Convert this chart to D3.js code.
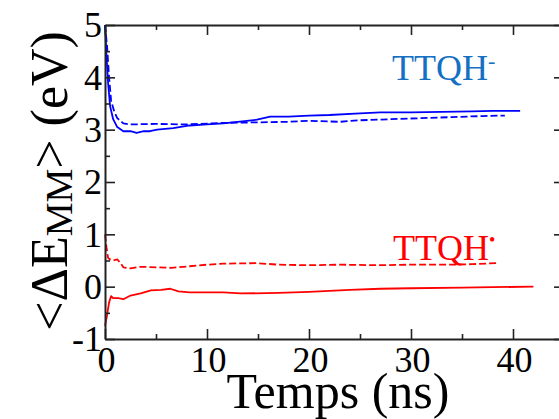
<!DOCTYPE html>
<html>
<head>
<meta charset="utf-8">
<script src="https://cdn.jsdelivr.net/npm/d3@7"></script>
<style>
  html, body { margin: 0; padding: 0; background: #fff; }
  svg { display: block; }
  svg text { font-family: "Liberation Serif", "Times New Roman", Times, serif !important; }
</style>
</head>
<body>
<svg id="chart" width="559" height="419"></svg>
<script>
// ---- data ----
const xTicks = [0, 10, 20, 30, 40];
const xMinorTicks = [5, 15, 25, 35, 45];
const yTicks = [-1, 0, 1, 2, 3, 4, 5];
const yMinorTicks = [-0.5, 0.5, 1.5, 2.5, 3.5, 4.5];

const blueSolidT = [0, 0.15, 0.3, 0.5, 0.8, 1.2, 1.8, 2.5, 3.1, 3.8, 4.4, 5.1, 6.7, 8.3, 10, 11.6, 13, 14.9, 16.2, 18, 20, 22, 25, 27, 30, 33, 36, 38, 40.7];
const blueSolidV = [5.0, 4.4, 3.9, 3.45, 3.2, 3.05, 2.97, 2.97, 2.94, 2.97, 2.97, 3.0, 3.03, 3.08, 3.1, 3.12, 3.15, 3.19, 3.25, 3.25, 3.27, 3.28, 3.31, 3.33, 3.33, 3.34, 3.35, 3.36, 3.36];

const blueDashT = [0, 0.2, 0.4, 0.6, 0.9, 1.2, 1.8, 2.5, 5, 8, 11.6, 15, 18, 20, 23, 25, 28, 31, 34, 37, 39.2];
const blueDashV = [5.0, 4.6, 4.0, 3.55, 3.35, 3.22, 3.12, 3.1, 3.11, 3.1, 3.13, 3.14, 3.15, 3.17, 3.15, 3.18, 3.2, 3.22, 3.24, 3.26, 3.27];

const redDashT = [0, 0.15, 0.3, 0.5, 0.8, 1.2, 1.5, 1.8, 2.5, 3.5, 5.1, 6.5, 8.3, 10, 11.6, 14.9, 17, 20, 23, 27, 30, 34, 36, 38.4];
const redDashV = [1.0, 0.75, 0.55, 0.52, 0.5, 0.52, 0.46, 0.37, 0.35, 0.38, 0.37, 0.36, 0.39, 0.42, 0.44, 0.45, 0.42, 0.41, 0.42, 0.41, 0.42, 0.42, 0.43, 0.45];

const redSolidT = [0, 0.2, 0.4, 0.6, 0.8, 1.3, 1.8, 2.5, 3.5, 4.5, 5.5, 6.4, 7.2, 8.3, 11.6, 13.3, 17, 20, 24, 27, 30, 35, 38, 42];
const redSolidV = [-0.75, -0.55, -0.3, -0.18, -0.22, -0.22, -0.24, -0.17, -0.13, -0.07, -0.06, -0.04, -0.09, -0.11, -0.11, -0.13, -0.12, -0.1, -0.06, -0.04, -0.03, -0.02, -0.01, 0.0];

const xDomain = [0, 45];
const yDomain = [-1, 5];

// ---- layout ----
const svg = d3.select("#chart");
const pLeft = 105, pTop = 25, pRight = 564, pBottom = 339;
const x = d3.scaleLinear().domain(xDomain).range([pLeft, pRight]);
const y = d3.scaleLinear().domain(yDomain).range([pBottom, pTop]);
const serif = "'Liberation Serif', 'Times New Roman', Times, serif";

svg.append("rect").attr("width", 559).attr("height", 419).attr("fill", "#fff");

const pts = (T, V) => T.map((t, i) => [t, V[i]]);
const line = d3.line().x(d => x(d[0])).y(d => y(d[1]));

const series = [
  { d: pts(redDashT, redDashV), color: "#ff0000", dash: "7,3" },
  { d: pts(redSolidT, redSolidV), color: "#ff0000", dash: null },
  { d: pts(blueDashT, blueDashV), color: "#0000ff", dash: "7,3" },
  { d: pts(blueSolidT, blueSolidV), color: "#0000ff", dash: null }
];
series.forEach(s => {
  svg.append("path").datum(s.d)
    .attr("fill", "none")
    .attr("stroke", s.color)
    .attr("stroke-width", 1.8)
    .attr("stroke-dasharray", s.dash)
    .attr("stroke-linejoin", "round")
    .attr("d", line);
});

// ---- axes ----
function styleAxis(g) {
  g.attr("font-family", serif);
  g.select(".domain").attr("stroke", "#222").attr("stroke-width", 2);
  g.selectAll(".tick line").attr("stroke", "#222").attr("stroke-width", 1.6);
  g.selectAll("text").attr("fill", "#000");
}
const fmt = d => String(d);

// bottom
const gB = svg.append("g").attr("transform", `translate(0,${pBottom})`)
  .call(d3.axisBottom(x).tickValues(xTicks).tickSize(-10).tickSizeOuter(0).tickFormat(fmt));
styleAxis(gB);
gB.selectAll("text").attr("font-size", 36).attr("x", 1).attr("y", 33).attr("dy", null);
svg.append("g").attr("transform", `translate(0,${pBottom})`)
  .call(d3.axisBottom(x).tickValues(xMinorTicks).tickSize(-5).tickSizeOuter(0).tickFormat(""))
  .call(styleAxis).select(".domain").remove();

// top
const gT = svg.append("g").attr("transform", `translate(0,${pTop})`)
  .call(d3.axisTop(x).tickValues(xTicks).tickSize(-10).tickSizeOuter(0).tickFormat(""));
styleAxis(gT);
svg.append("g").attr("transform", `translate(0,${pTop})`)
  .call(d3.axisTop(x).tickValues(xMinorTicks).tickSize(-5).tickSizeOuter(0).tickFormat(""))
  .call(styleAxis).select(".domain").remove();

// left
const gL = svg.append("g").attr("transform", `translate(${pLeft},0)`)
  .call(d3.axisLeft(y).tickValues(yTicks).tickSize(-10).tickSizeOuter(0).tickPadding(3).tickFormat(fmt));
styleAxis(gL);
gL.selectAll("text").attr("font-size", 36).attr("dy", "0.33em");
svg.append("g").attr("transform", `translate(${pLeft},0)`)
  .call(d3.axisLeft(y).tickValues(yMinorTicks).tickSize(-5).tickSizeOuter(0).tickFormat(""))
  .call(styleAxis).select(".domain").remove();

// right
const gR = svg.append("g").attr("transform", `translate(${pRight},0)`)
  .call(d3.axisRight(y).tickValues(yTicks).tickSize(-10).tickSizeOuter(0).tickFormat(""));
styleAxis(gR);
svg.append("g").attr("transform", `translate(${pRight},0)`)
  .call(d3.axisRight(y).tickValues(yMinorTicks).tickSize(-5).tickSizeOuter(0).tickFormat(""))
  .call(styleAxis).select(".domain").remove();

// ---- titles ----
svg.append("text")
  .attr("x", 338).attr("y", 408)
  .attr("text-anchor", "middle")
  .attr("font-family", serif)
  .attr("font-size", 50)
  .attr("fill", "#000")
  .text("Temps (ns)");

const yt = svg.append("text")
  .attr("transform", "translate(67,181) rotate(-90)")
  .attr("text-anchor", "middle")
  .attr("font-family", serif)
  .attr("font-size", 52)
  .attr("fill", "#000");
yt.append("tspan").text("<ΔE");
yt.append("tspan").attr("font-size", 38).attr("dy", 5).text("MM");
yt.append("tspan").attr("dy", -5).text("> (eV)");

// ---- series labels ----
const lb = svg.append("text").attr("x", 392).attr("y", 80)
  .attr("font-family", serif)
  .attr("font-size", 36).attr("fill", "#1570c4");
lb.append("tspan").text("TTQH");
lb.append("tspan").attr("font-size", 22).attr("dy", -12).text("-");

const lr = svg.append("text").attr("x", 393).attr("y", 260)
  .attr("font-family", serif)
  .attr("font-size", 36).attr("fill", "#ff0000");
lr.append("tspan").text("TTQH");
lr.append("tspan").attr("font-size", 18).attr("dy", -14).text("•");
</script>
</body>
</html>
